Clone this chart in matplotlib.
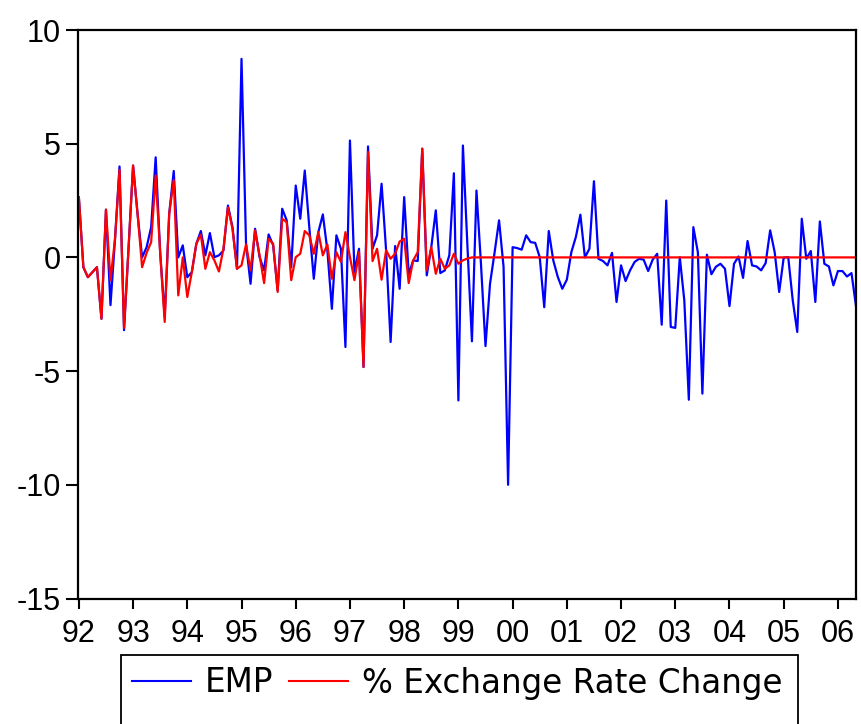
import numpy as np
import pandas as pd
import matplotlib
matplotlib.use("Agg")
import matplotlib.pyplot as plt
from matplotlib.patches import Rectangle

# ---- data (monthly, 1992:01 - 2006:05) ----
dates = pd.date_range("1992-01-01", periods=173, freq="MS")

emp = [
    2.65, -0.43, -0.87, -0.65, -0.43, -2.70, 2.10, -2.10, 0.80, 4.00, -3.20, 0.40,
    4.04, 1.90, 0.00, 0.45, 1.33, 4.40, 0.20, -2.60, 1.93, 3.80, 0.00, 0.53,
    -0.87, -0.65, 0.60, 1.16, 0.09, 1.07, 0.01, 0.09, 0.30, 2.28, 1.33, -0.50,
    8.73, 0.60, -1.16, 1.26, 0.01, -0.57, 1.01, 0.53, -1.45, 2.14, 1.63, -0.43,
    3.16, 1.70, 3.82, 1.33, -0.94, 1.11, 1.89, 0.31, -2.26, 0.97, 0.38, -3.94,
    5.14, -0.64, 0.38, -4.82, 4.88, 0.38, 0.97, 3.24, 0.31, -3.72, 0.50, -1.38,
    2.65, -0.75, -0.13, -0.16, 4.78, -0.79, 0.45, 2.07, -0.69, -0.57, 0.10, 3.70,
    -6.29, 4.92, 0.50, -3.69, 2.94, -0.30, -3.90, -1.16, 0.20, 1.63, -0.42, -10.00,
    0.45, 0.41, 0.34, 0.97, 0.67, 0.64, 0.01, -2.19, 1.16, -0.13, -0.86, -1.38,
    -0.98, 0.23, 0.90, 1.88, 0.00, 0.38, 3.35, -0.06, -0.16, -0.35, 0.20, -1.96,
    -0.35, -1.04, -0.57, -0.20, -0.06, -0.10, -0.60, -0.10, 0.16, -2.96, 2.50, -3.06,
    -3.10, 0.01, -1.89, -6.26, 1.33, 0.23, -5.99, 0.12, -0.74, -0.41, -0.28, -0.50,
    -2.14, -0.28, 0.04, -0.90, 0.72, -0.35, -0.40, -0.57, -0.25, 1.19, 0.23, -1.52,
    -0.01, 0.01, -1.89, -3.28, 1.70, -0.06, 0.28, -1.96, 1.58, -0.28, -0.40, -1.23,
    -0.60, -0.60, -0.84, -0.69, -2.14,
]

exch = [
    2.65, -0.43, -0.87, -0.65, -0.43, -2.70, 2.10, -1.00, 0.80, 3.85, -3.10, 0.40,
    4.04, 1.90, -0.43, 0.20, 0.67, 3.60, 0.20, -2.84, 1.93, 3.40, -1.67, 0.00,
    -1.74, -0.65, 0.60, 1.00, -0.50, 0.23, -0.13, -0.62, 0.38, 2.20, 1.26, -0.50,
    -0.35, 0.57, -0.57, 1.19, 0.09, -1.13, 0.82, 0.60, -1.52, 1.70, 1.55, -1.00,
    0.01, 0.16, 1.16, 0.97, 0.16, 1.11, 0.09, 0.57, -0.94, 0.23, -0.20, 1.11,
    0.01, -1.00, 0.23, -4.82, 4.63, -0.16, 0.38, -0.98, 0.31, -0.06, 0.16, 0.70,
    0.82, -1.13, -0.13, 0.23, 4.78, -0.57, 0.45, -0.72, -0.06, -0.50, -0.35, 0.16,
    -0.28, -0.13, -0.05, 0.00, 0.00, 0.00, 0.00, 0.00, 0.00, 0.00, 0.00, 0.00,
    0.00, 0.00, 0.00, 0.00, 0.00, 0.00, 0.00, 0.00, 0.00, 0.00, 0.00, 0.00,
    0.00, 0.00, 0.00, 0.00, 0.00, 0.00, 0.00, 0.00, 0.00, 0.00, 0.00, 0.00,
    0.00, 0.00, 0.00, 0.00, 0.00, 0.00, 0.00, 0.00, 0.00, 0.00, 0.00, 0.00,
    0.00, 0.00, 0.00, 0.00, 0.00, 0.00, 0.00, 0.00, 0.00, 0.00, 0.00, 0.00,
    0.00, 0.00, 0.00, 0.00, 0.00, 0.00, 0.00, 0.00, 0.00, 0.00, 0.00, 0.00,
    0.00, 0.00, 0.00, 0.00, 0.00, 0.00, 0.00, 0.00, 0.00, 0.00, 0.00, 0.00,
    0.00, 0.00, 0.00, 0.00, 0.00,
]

year_ticks = list(range(1992, 2007))
year_labels = ["92", "93", "94", "95", "96", "97", "98", "99",
               "00", "01", "02", "03", "04", "05", "06"]
y_ticks = [-15, -10, -5, 0, 5, 10]
y_labels = ["-15", "-10", "-5", "0", "5", "10"]
series_names = ["EMP", "% Exchange Rate Change"]

# ---- figure ----
W, H = 862, 724
fig = plt.figure(figsize=(W / 100, H / 100), dpi=100)
ax = fig.add_axes([77.5 / W, 1 - 598.5 / H, (856 - 77.5) / W, (598.5 - 30) / H])

t = dates.year + (dates.month - 1) / 12.0

l1, = ax.plot(t, emp, color="#0000ff", lw=1.6, label=series_names[0])
l2, = ax.plot(t, exch, color="#ff0000", lw=1.6, label=series_names[1])

ax.set_xlim(1992 - 0.3 / 12, 1992 + 172 / 12)
ax.set_ylim(-15, 10)

ax.set_xticks(year_ticks)
ax.set_xticklabels(year_labels, fontfamily="Liberation Sans", fontsize=22)
ax.set_yticks(y_ticks)
ax.set_yticklabels(y_labels, fontfamily="Liberation Sans", fontsize=22)

ax.tick_params(axis="x", direction="out", length=7.5, width=1.5, pad=7)
ax.tick_params(axis="y", direction="out", length=8.5, width=1.5, pad=3.5)
for s in ax.spines.values():
    s.set_linewidth(1.6)
    s.set_color("black")

# ---- legend ----
leg = fig.legend(handles=[l1, l2], loc="center left",
                 bbox_to_anchor=(132 / W, 1 - 683 / H),
                 ncol=2, frameon=False, borderpad=0, borderaxespad=0,
                 handlelength=1.8, handletextpad=0.42, columnspacing=0.5,
                 prop={"family": "DejaVu Sans", "size": 23.5})
for line in leg.get_lines():
    line.set_linewidth(1.5)

fig.add_artist(Rectangle((121 / W, 1 - 740 / H), (798 - 121) / W, (740 - 655) / H,
                         transform=fig.transFigure, fill=False, lw=1.3,
                         edgecolor="black", clip_on=False))

fig.savefig("out.png", dpi=100)
